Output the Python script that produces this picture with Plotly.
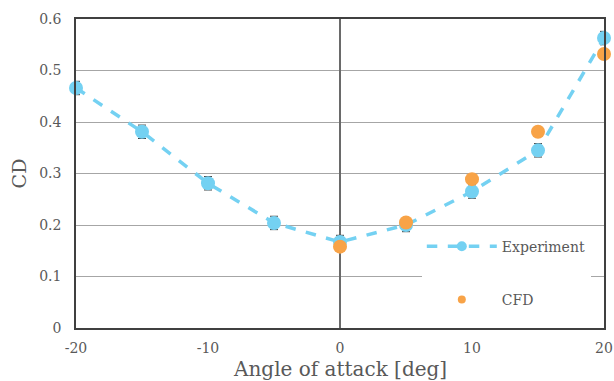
import plotly.graph_objects as go

# Drag coefficient versus angle of attack
exp_angle = [-20, -15, -10, -5, 0, 5, 10, 15, 20]
exp_cd = [0.466, 0.381, 0.281, 0.204, 0.167, 0.200, 0.265, 0.345, 0.563]
exp_err = [0.013, 0.013, 0.013, 0.013, 0.013, 0.013, 0.013, 0.013, 0.013]

cfd_angle = [0, 5, 10, 15, 20]
cfd_cd = [0.158, 0.205, 0.289, 0.381, 0.532]

x_ticks = [-20, -10, 0, 10, 20]
y_ticks = [0, 0.1, 0.2, 0.3, 0.4, 0.5, 0.6]

FONT = "DejaVu Serif"
TXT = "#595959"
BLUE = "#74D1F2"
ORANGE = "#F8A347"

fig = go.Figure()

fig.add_trace(go.Scatter(
    x=exp_angle, y=exp_cd, name="Experiment", showlegend=False,
    mode="lines+markers", cliponaxis=False,
    line=dict(color=BLUE, width=3.5, dash="dash"),
    marker=dict(color=BLUE, size=14),
    error_y=dict(type="data", array=exp_err, color="#3a3a3a",
                 thickness=1, width=4),
))

fig.add_trace(go.Scatter(
    x=cfd_angle, y=cfd_cd, name="CFD", showlegend=False,
    mode="markers", cliponaxis=False,
    marker=dict(color=ORANGE, size=14),
))

# legend entries with smaller symbols
fig.add_trace(go.Scatter(
    x=[None], y=[None], name="Experiment", legendgroup="exp",
    mode="lines+markers",
    line=dict(color=BLUE, width=3.5, dash="dash"),
    marker=dict(color=BLUE, size=10),
))
fig.add_trace(go.Scatter(
    x=[None], y=[None], name="CFD", legendgroup="cfd",
    mode="markers",
    marker=dict(color=ORANGE, size=8),
))

fig.update_layout(
    width=614, height=381,
    margin=dict(l=76, r=10, t=19, b=53),
    plot_bgcolor="white", paper_bgcolor="white",
    font=dict(family=FONT, color=TXT, size=14),
    showlegend=True,
    legend=dict(
        x=0.975, y=0.04, xanchor="right", yanchor="bottom",
        bgcolor="white", borderwidth=0,
        font=dict(family=FONT, size=14, color=TXT),
        itemwidth=70, tracegroupgap=32,
        itemsizing="trace",
    ),
    annotations=[dict(
        text="Angle of attack [deg]", xref="paper", yref="paper",
        x=0.5, y=-0.088, xanchor="center", yanchor="top",
        showarrow=False, font=dict(family=FONT, size=20, color=TXT),
    )],
)

fig.update_xaxes(
    range=[-20, 20], tickvals=x_ticks, ticktext=[str(v) for v in x_ticks],
    showgrid=False, zeroline=True, zerolinecolor="#6a6a6a", zerolinewidth=1.5,
    showline=True, linecolor="#404040", linewidth=1.5, mirror=True,
    ticks="", ticklabelstandoff=6, automargin=False,
    tickfont=dict(family=FONT, size=14, color=TXT),
)

fig.update_yaxes(
    range=[0, 0.6], tickvals=y_ticks,
    ticktext=["0", "0.1", "0.2", "0.3", "0.4", "0.5", "0.6"],
    showgrid=True, gridcolor="#a6a6a6", gridwidth=1.2, zeroline=False,
    showline=True, linecolor="#404040", linewidth=1.5, mirror=True,
    ticks="", ticklabelstandoff=10, automargin=False,
    tickfont=dict(family=FONT, size=14, color=TXT),
    title=dict(text="CD", standoff=8,
               font=dict(family=FONT, size=19, color=TXT)),
)

fig.write_html("out.html")
